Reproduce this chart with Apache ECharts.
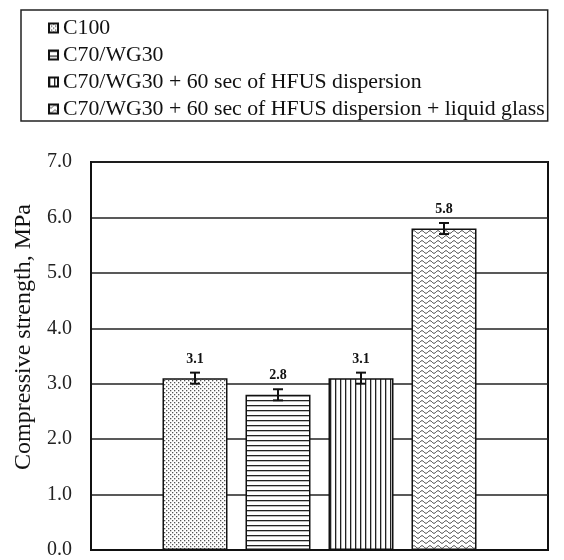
<!DOCTYPE html>
<html>
<head>
<meta charset="utf-8">
<script src="https://cdn.jsdelivr.net/npm/echarts@6/dist/echarts.min.js"></script>
<style>
  html, body { margin: 0; padding: 0; background: #fff; }
  #chart { width: 564px; height: 560px; }
</style>
</head>
<body>
<div id="chart"></div>
<script>
// Mix names, mean compressive strength (MPa) and error half-widths
const seriesNames = [
  'C100',
  'C70/WG30',
  'C70/WG30 + 60 sec of HFUS dispersion',
  'C70/WG30 + 60 sec of HFUS dispersion + liquid glass'
];
const strengths = [3.1, 2.8, 3.1, 5.8];
const errors = [0.1, 0.1, 0.1, 0.1];
const yTicks = { min: 0, max: 7, step: 1 };

const FONT = '"Liberation Serif", "Times New Roman", serif';
const BAR_W = 65;
const BAR_STEP = 83; // bar width + gap between neighbouring bars

// Hatch fills for the bars
function makePattern(w, h, draw) {
  const c = document.createElement('canvas');
  c.width = w; c.height = h;
  const ctx = c.getContext('2d');
  ctx.fillStyle = '#fff';
  ctx.fillRect(0, 0, w, h);
  draw(ctx);
  return { image: c, repeat: 'repeat' };
}
const dots = makePattern(4, 4, ctx => {
  ctx.fillStyle = '#555';
  ctx.fillRect(0, 0, 1.3, 1.3);
  ctx.fillRect(2, 2, 1.3, 1.3);
});
const hLines = makePattern(6, 5.5, ctx => {
  ctx.fillStyle = '#222';
  ctx.fillRect(0, 0, 6, 1.3);
});
const vLines = makePattern(5.7, 6, ctx => {
  ctx.fillStyle = '#222';
  ctx.fillRect(0, 0, 1.3, 6);
});
const waves = makePattern(8, 5, ctx => {
  ctx.strokeStyle = '#333';
  ctx.lineWidth = 1;
  ctx.beginPath();
  for (let x = 0; x <= 8; x += 0.5) {
    const y = 2 + 1.3 * Math.sin(x / 8 * Math.PI * 2);
    if (x === 0) ctx.moveTo(x, y); else ctx.lineTo(x, y);
  }
  ctx.stroke();
});
const fills = [dots, hLines, vLines, waves];

const barSeries = seriesNames.map((name, i) => ({
  name: name,
  type: 'bar',
  data: [strengths[i]],
  barWidth: BAR_W,
  barGap: ((BAR_STEP - BAR_W) / BAR_W * 100).toFixed(1) + '%',
  itemStyle: { color: fills[i], borderColor: '#111', borderWidth: 1.5 },
  label: {
    show: true,
    position: 'top',
    distance: 12,
    formatter: p => p.value.toFixed(1),
    fontFamily: FONT,
    fontWeight: 'bold',
    fontSize: 14,
    color: '#111'
  },
  z: 2
}));

// Error bars drawn over the bars, one per mix
const errorSeries = {
  type: 'custom',
  name: 'error',
  data: strengths.map((v, i) => [0, v - errors[i], v + errors[i], i]),
  renderItem: (params, api) => {
    const lo = api.coord([api.value(0), api.value(1)]);
    const hi = api.coord([api.value(0), api.value(2)]);
    const x = lo[0] + (api.value(3) - 1.5) * BAR_STEP;
    const cap = 5;
    const style = { stroke: '#111', lineWidth: 2 };
    return {
      type: 'group',
      children: [
        { type: 'line', shape: { x1: x, y1: lo[1], x2: x, y2: hi[1] }, style },
        { type: 'line', shape: { x1: x - cap, y1: lo[1], x2: x + cap, y2: lo[1] }, style },
        { type: 'line', shape: { x1: x - cap, y1: hi[1], x2: x + cap, y2: hi[1] }, style }
      ]
    };
  },
  z: 5
};

const chart = echarts.init(document.getElementById('chart'), null, { renderer: 'canvas' });
chart.setOption({
  animation: false,
  backgroundColor: '#fff',
  legend: {
    data: seriesNames,
    orient: 'vertical',
    left: 21,
    top: 10,
    padding: [7, 3, 1, 27],
    itemGap: 5,
    itemWidth: 9,
    itemHeight: 9,
    itemTextGap: 0,
    icon: 'rect',
    borderColor: '#222',
    borderWidth: 1.5,
    textStyle: { fontFamily: FONT, fontSize: 21.8, color: '#111', lineHeight: 22 }
  },
  grid: {
    left: 91, right: 16, top: 162, bottom: 8,
    show: true, borderColor: '#111', borderWidth: 2, backgroundColor: 'transparent'
  },
  xAxis: {
    type: 'category',
    data: [''],
    axisLine: { lineStyle: { color: '#111', width: 2 } },
    axisTick: { show: false },
    axisLabel: { show: false }
  },
  yAxis: {
    type: 'value',
    min: yTicks.min,
    max: yTicks.max,
    interval: yTicks.step,
    name: 'Compressive strength, MPa',
    nameLocation: 'middle',
    nameGap: 52,
    nameTextStyle: { fontFamily: FONT, fontSize: 24, color: '#111', padding: [0, 0, 0, 38] },
    axisLine: { show: true, lineStyle: { color: '#111', width: 2 } },
    axisTick: { show: false },
    axisLabel: {
      formatter: v => v.toFixed(1),
      fontFamily: FONT, fontSize: 20, color: '#222', margin: 19
    },
    splitLine: { lineStyle: { color: '#222', width: 1.5 } }
  },
  series: [...barSeries, errorSeries]
});
</script>
</body>
</html>
